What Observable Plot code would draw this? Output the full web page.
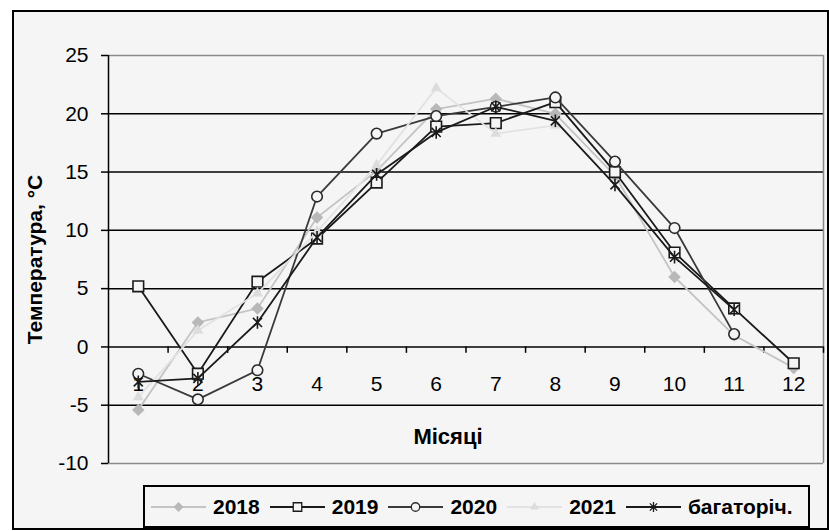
<!DOCTYPE html>
<html><head><meta charset="utf-8">
<script src="https://cdn.jsdelivr.net/npm/d3@7"></script>
<script src="https://cdn.jsdelivr.net/npm/@observablehq/plot@0.6"></script>
<style>
body{margin:0;background:#fff;font-family:"Liberation Sans",Arial,sans-serif;}
#wrap{position:relative;width:829px;height:531px;overflow:hidden}
#box{position:absolute;left:12px;top:10px;width:817px;height:520px;box-sizing:border-box;border:2px solid #000;background:#f5f5f5}
#chart{position:absolute;left:0;top:0}
#legend{position:absolute;left:143px;top:485px;width:667px;height:43px;box-sizing:border-box;border:2px solid #000;background:#f5f5f5;display:flex;align-items:center;padding-left:6px}
.item{display:flex;align-items:center;margin-right:10px}
.item span{font-weight:bold;font-size:21px;margin-left:7px;color:#000}
</style></head>
<body>
<div id="wrap"><div id="box"></div><div id="chart"></div><div id="legend"></div></div>
<script>
const months = [1,2,3,4,5,6,7,8,9,10,11,12];
const t2018 = [-5.4, 2.1, 3.3, 11.1, 15.1, 20.4, 21.3, 20.0, 14.7, 6.0, 1.0, -1.8];
const t2019 = [5.2, -2.3, 5.6, 9.3, 14.1, 18.9, 19.2, 21.0, 15.0, 8.1, 3.3, -1.4];
const t2020 = [-2.3, -4.5, -2.0, 12.9, 18.3, 19.8, 20.6, 21.4, 15.9, 10.2, 1.1, null];
const t2021 = [-4.3, 1.4, 4.6, 9.9, 15.6, 22.2, 18.3, 19.0, null, null, null, null];
const tMean = [-3.0, -2.7, 2.1, 9.4, 14.8, 18.4, 20.6, 19.4, 13.9, 7.7, 3.2, null];
const seriesNames = ["2018", "2019", "2020", "2021", "багаторіч."];
const yTicks = [-10, -5, 0, 5, 10, 15, 20, 25];
const yLabel = "Температура, °С";
const xLabel = "Місяці";

const star = {draw(ctx, size){
  const r = Math.sqrt(size/Math.PI), d = r*0.72;
  ctx.moveTo(0,-r); ctx.lineTo(0,r);
  ctx.moveTo(-d,-d); ctx.lineTo(d,d);
  ctx.moveTo(-d,d); ctx.lineTo(d,-d);
}};
const BG = "#f5f5f5";
const styles = [
  {values:t2018, line:"#c4c4c4", symbol:"diamond2", r:5.6, fill:"#b8b8b8", stroke:"none", d3sym:d3.symbolDiamond2},
  {values:t2019, line:"#1a1a1a", symbol:"square", r:6.0, fill:BG, stroke:"#1a1a1a", d3sym:d3.symbolSquare},
  {values:t2020, line:"#3a3a3a", symbol:"circle", r:5.3, fill:BG, stroke:"#2a2a2a", d3sym:d3.symbolCircle},
  {values:t2021, line:"#e2e2e2", symbol:"triangle2", r:5.2, fill:"#dcdcdc", stroke:"none", d3sym:d3.symbolTriangle2},
  {values:tMean, line:"#1a1a1a", symbol:star, r:6.3, fill:"none", stroke:"#1a1a1a", d3sym:star}
];
const rows = s => months.map((m,i)=>({month:m, value:s.values[i]})).filter(d=>d.value!=null);
const bounds = months.map(m=>m+0.5);
const xMin = months[0]-0.5, xMax = months[months.length-1]+0.5;
const yMin = yTicks[0], yMax = yTicks[yTicks.length-1];

const marks = [];
marks.push(Plot.ruleY(yTicks.filter(v=>v>yMin && v<yMax), {y:d=>d, stroke:"#000", strokeWidth:1.5}));
marks.push(Plot.ruleY([yMin, yMax], {y:d=>d, stroke:"#8a8a8a", strokeWidth:1.5}));
marks.push(Plot.ruleX([xMax], {x:d=>d, stroke:"#8a8a8a", strokeWidth:1.5}));
marks.push(Plot.ruleX([xMin], {x:d=>d, stroke:"#000", strokeWidth:1.5}));
marks.push(Plot.ruleX(bounds, {x:d=>d, y1:()=>0, y2:()=>-0.55, stroke:"#000", strokeWidth:1.5}));
marks.push(Plot.axisY({ticks:yTicks, tickFormat:d=>String(d), tickSize:7, tickPadding:13, fontSize:21, label:null, stroke:"#000", strokeWidth:1.5, fill:"#000"}));
marks.push(Plot.text(months, {x:d=>d, y:()=>0, dy:37, fontSize:21, fill:"#000"}));
styles.forEach(s=>{
  marks.push(Plot.line(rows(s), {x:"month", y:"value", stroke:s.line, strokeWidth:1.8}));
  marks.push(Plot.dot(rows(s), {x:"month", y:"value", symbol:s.symbol, r:s.r, fill:s.fill, stroke:s.stroke, strokeWidth:1.6}));
});
marks.push(Plot.text([yLabel], {x:()=>xMin, y:()=>(yMin+yMax)/2, dx:-73, rotate:-90, textAnchor:"middle", fontSize:21, fontWeight:"bold", fill:"#000"}));
marks.push(Plot.text([xLabel], {frameAnchor:"bottom", textAnchor:"middle", dx:-18, dy:-20, fontSize:22, fontWeight:"bold", fill:"#000"}));

const chart = Plot.plot({
  width:829, height:531,
  marginLeft:108, marginRight:6, marginTop:55, marginBottom:68,
  style:{background:"transparent", fontFamily:"'Liberation Sans', Arial, sans-serif", overflow:"visible"},
  x:{type:"linear", domain:[xMin, xMax], axis:null},
  y:{domain:[yMin, yMax], axis:null},
  marks
});
document.getElementById("chart").appendChild(chart);

const legend = document.getElementById("legend");
styles.forEach((s,i)=>{
  const item = document.createElement("div"); item.className="item";
  const size = Math.PI*s.r*s.r;
  const path = d3.symbol(s.d3sym, size)();
  item.innerHTML = `<svg width="55" height="20"><line x1="0" x2="55" y1="10" y2="10" stroke="${s.line}" stroke-width="1.8"/>`+
    `<path transform="translate(27.5,10) scale(0.8)" d="${path}" fill="${s.fill}" stroke="${s.stroke}" stroke-width="1.6"/></svg><span>${seriesNames[i]}</span>`;
  legend.appendChild(item);
});
</script>
</body></html>
